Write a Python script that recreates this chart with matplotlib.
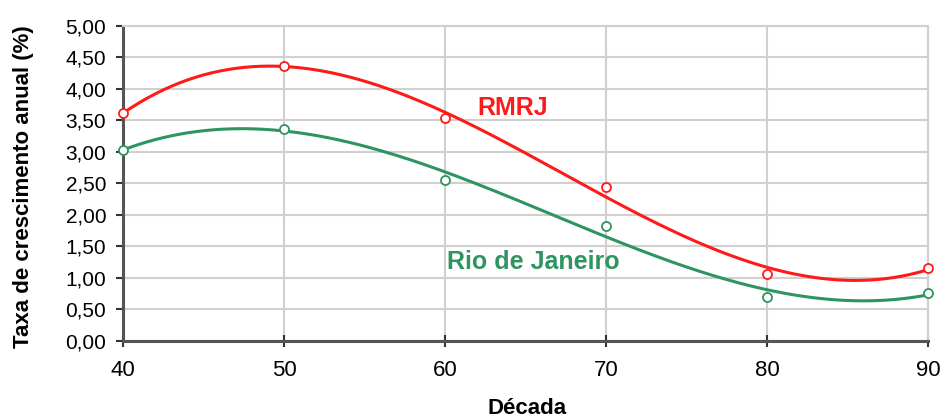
import numpy as np
import matplotlib
matplotlib.use("Agg")
import matplotlib.pyplot as plt
from matplotlib.ticker import FuncFormatter

plt.rcParams['font.family'] = ['Liberation Sans', 'DejaVu Sans']

decadas = [40, 50, 60, 70, 80, 90]
rmrj = [3.62, 4.37, 3.54, 2.44, 1.06, 1.16]
rio = [3.03, 3.37, 2.56, 1.83, 0.70, 0.76]
y_ticks = [0.0, 0.5, 1.0, 1.5, 2.0, 2.5, 3.0, 3.5, 4.0, 4.5, 5.0]

red = '#ff1a1a'
green = '#2e9460'

fig = plt.figure(figsize=(9.42, 4.19), dpi=100)
ax = fig.add_axes([0.1306, 0.1862, 0.8545, 0.7518])

# cubic trend lines through each series, plus the observed points
xs = np.linspace(decadas[0], decadas[-1], 300)
for vals, col in ((rmrj, red), (rio, green)):
    coef = np.polyfit(decadas, vals, 3)
    ax.plot(xs, np.polyval(coef, xs), color=col, lw=2.2, zorder=3)
    ax.plot(decadas, vals, 'o', mfc='white', mec=col, mew=1.3, ms=6.5, zorder=4,
            clip_on=False)

ax.set_xlim(40, 90)
ax.set_ylim(0, 5)
ax.set_xticks(decadas)
ax.set_yticks(y_ticks)
ax.yaxis.set_major_formatter(FuncFormatter(lambda v, p: f"{v:.2f}".replace('.', ',')))
ax.grid(True, color='#d0d0d0', lw=1.5)
ax.set_axisbelow(True)

for s in ('top', 'right'):
    ax.spines[s].set_color('#d0d0d0')
    ax.spines[s].set_linewidth(1.5)
for s in ('left', 'bottom'):
    ax.spines[s].set_color('#555555')
    ax.spines[s].set_linewidth(2.2)

ax.tick_params(axis='y', direction='out', length=5, width=1.5, color='#333333',
               labelsize=15, pad=7)
ax.tick_params(axis='x', direction='inout', length=8, width=1.5, color='#333333',
               labelsize=16, pad=10)

ax.set_ylabel('Taxa de crescimento anual (%)', fontsize=16, fontweight='bold')
ax.yaxis.set_label_coords(-0.111, 0.49)
fig.text(0.560, 5.0 / 419, 'Década', fontsize=16, fontweight='bold',
         ha='center', va='baseline')

ax.text(62.0, 3.70, 'RMRJ', color=red, fontsize=18, fontweight='bold',
        va='center', ha='left')
ax.text(60.1, 1.25, 'Rio de Janeiro', color=green, fontsize=18, fontweight='bold',
        va='center', ha='left')

fig.savefig('out.png', dpi=100)
